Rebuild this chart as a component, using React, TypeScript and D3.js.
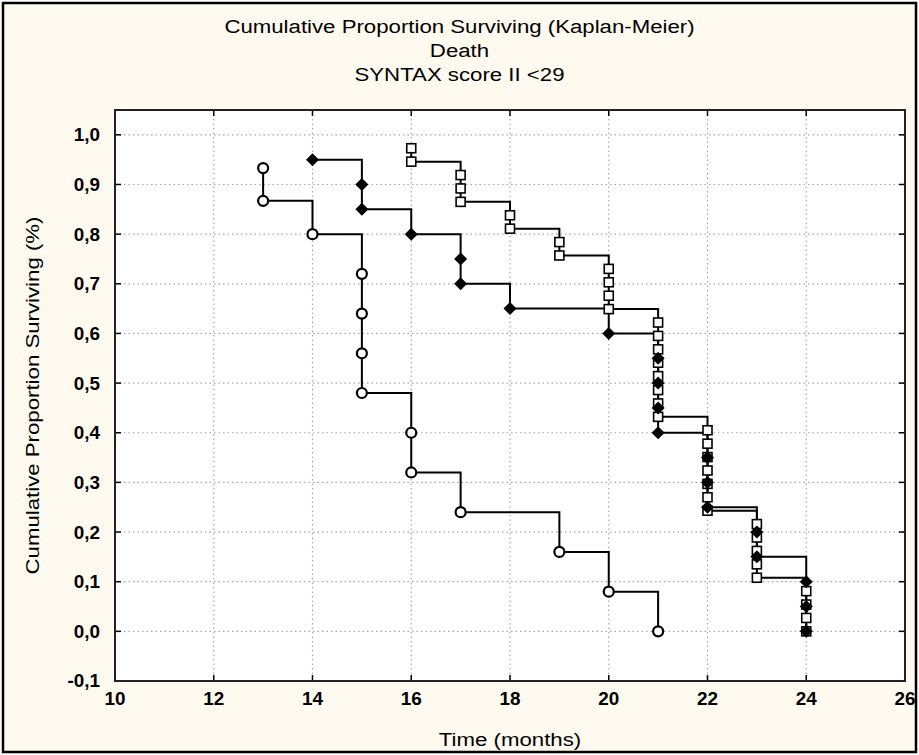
import React from "react";
import * as d3 from "d3";

// Kaplan-Meier event times (months) and survival estimates per group
const groupATimes = [13, 13, 14, 15, 15, 15, 15, 16, 16, 17, 19, 20, 21];
const groupAValues = [0.933, 0.867, 0.8, 0.72, 0.64, 0.56, 0.48, 0.4, 0.32, 0.24, 0.16, 0.08, 0.0];

const groupBTimes = [14, 15, 15, 16, 17, 17, 18, 20, 21, 21, 21, 21, 22, 22, 22, 23, 23, 24, 24, 24];
const groupBValues = [0.95, 0.9, 0.85, 0.8, 0.75, 0.7, 0.65, 0.6, 0.55, 0.5, 0.45, 0.4, 0.35, 0.3, 0.25, 0.2, 0.15, 0.1, 0.05, 0.0];

const groupCTimes = [
  16, 16, 17, 17, 17, 18, 18, 19, 19, 20, 20, 20, 20,
  21, 21, 21, 21, 21, 21, 21, 21,
  22, 22, 22, 22, 22, 22, 22,
  23, 23, 23, 23, 23,
  24, 24, 24, 24,
];
const groupCValues = [
  0.973, 0.946, 0.919, 0.892, 0.865, 0.838, 0.811, 0.784, 0.757, 0.73, 0.703, 0.676, 0.649,
  0.622, 0.595, 0.568, 0.541, 0.514, 0.486, 0.459, 0.432,
  0.405, 0.378, 0.351, 0.324, 0.297, 0.27, 0.243,
  0.216, 0.189, 0.162, 0.135, 0.108,
  0.081, 0.054, 0.027, 0.0,
];

const xTicks = [10, 12, 14, 16, 18, 20, 22, 24, 26];
const yTicks = [-0.1, 0, 0.1, 0.2, 0.3, 0.4, 0.5, 0.6, 0.7, 0.8, 0.9, 1.0];

const titleLines = ["Cumulative Proportion Surviving (Kaplan-Meier)", "Death", "SYNTAX score II <29"];
const xTitle = "Time (months)";
const yTitle = "Cumulative Proportion Surviving (%)";

const W = 919;
const H = 755;
const plot = { left: 115, right: 905, top: 110, bottom: 681 };
const FONT = "'Liberation Sans', Arial, sans-serif";
// the chart font is slightly wider than Arial, so text is stretched along its run
const TEXT_STRETCH = 1.17;
const TICK_STRETCH = 1.05;

type Pt = { t: number; v: number };
const zip = (ts: number[], vs: number[]): Pt[] => ts.map((t, i) => ({ t, v: vs[i] }));

function Label(props: {
  x: number;
  y: number;
  text: string;
  size: number;
  stretch: number;
  anchor?: string;
  rotate?: number;
  weight?: string | number;
  dy?: string;
}) {
  const { x, y, text, size, stretch, anchor = "middle", rotate = 0, weight = "normal", dy } = props;
  return (
    <text
      transform={`translate(${x},${y}) rotate(${rotate}) scale(${stretch},1)`}
      textAnchor={anchor}
      fontSize={size}
      fontWeight={weight}
      dy={dy}
      fill="#000"
    >
      {text}
    </text>
  );
}

export default function App() {
  const x = d3.scaleLinear().domain([10, 26]).range([plot.left, plot.right]);
  const y = d3.scaleLinear().domain([-0.1, 1.05]).range([plot.bottom, plot.top]);

  const line = d3
    .line<Pt>()
    .x((d) => x(d.t))
    .y((d) => y(d.v))
    .curve(d3.curveStepAfter);

  const a = zip(groupATimes, groupAValues);
  const b = zip(groupBTimes, groupBValues);
  const c = zip(groupCTimes, groupCValues);

  const fmt = (v: number) => d3.format(".1f")(v).replace(".", ",").replace("−", "-");

  const tickLen = 6;

  return (
    <svg
      width={W}
      height={H}
      style={{ position: "absolute", left: 0, top: 0, display: "block" }}
      fontFamily={FONT}
    >
      <defs>
        <clipPath id="frame-clip">
          <rect x={4} y={4} width={W - 8} height={H - 8} />
        </clipPath>
      </defs>
      <rect x={0} y={0} width={W} height={H} fill="#ffffff" />

      <g clipPath="url(#frame-clip)">
        <rect x={3} y={3} width={W - 6} height={H - 6} fill="#fffaf0" />

        {/* plot area */}
        <rect
          x={plot.left}
          y={plot.top}
          width={plot.right - plot.left}
          height={plot.bottom - plot.top}
          fill="#ffffff"
        />

        {/* dotted grid */}
        <g stroke="#a8a8a8" strokeWidth={1.2} strokeDasharray="1.5,3">
          {xTicks.slice(1, -1).map((t) => (
            <line key={"gx" + t} x1={x(t)} x2={x(t)} y1={plot.top} y2={plot.bottom} />
          ))}
          {yTicks.slice(1).map((t) => (
            <line key={"gy" + t} x1={plot.left} x2={plot.right} y1={y(t)} y2={y(t)} />
          ))}
        </g>

        {/* ticks on all four sides, pointing inward */}
        <g stroke="#000" strokeWidth={1.5}>
          {xTicks.map((t) => (
            <g key={"tx" + t}>
              <line x1={x(t)} x2={x(t)} y1={plot.bottom} y2={plot.bottom - tickLen} />
              <line x1={x(t)} x2={x(t)} y1={plot.top} y2={plot.top + tickLen} />
            </g>
          ))}
          {yTicks.map((t) => (
            <g key={"ty" + t}>
              <line x1={plot.left} x2={plot.left + tickLen} y1={y(t)} y2={y(t)} />
              <line x1={plot.right} x2={plot.right - tickLen} y1={y(t)} y2={y(t)} />
            </g>
          ))}
        </g>

        <rect
          x={plot.left}
          y={plot.top}
          width={plot.right - plot.left}
          height={plot.bottom - plot.top}
          fill="none"
          stroke="#222"
          strokeWidth={2}
        />

        {/* survival step curves */}
        <g fill="none" stroke="#000" strokeWidth={2}>
          <path d={line(a) || ""} />
          <path d={line(c) || ""} />
          <path d={line(b) || ""} />
        </g>

        {/* group A: open circles */}
        <g fill="#fff" stroke="#000" strokeWidth={2.2}>
          {a.map((d, i) => (
            <circle key={"a" + i} cx={x(d.t)} cy={y(d.v)} r={5} />
          ))}
        </g>

        {/* group C: open squares */}
        <g fill="#fff" stroke="#000" strokeWidth={1.6}>
          {c.map((d, i) => (
            <rect key={"c" + i} x={x(d.t) - 4.5} y={y(d.v) - 4.5} width={9} height={9} />
          ))}
        </g>

        {/* group B: filled diamonds */}
        <g fill="#000">
          {b.map((d, i) => {
            const cx = x(d.t);
            const cy = y(d.v);
            const s = 6.5;
            return (
              <path
                key={"b" + i}
                d={`M${cx},${cy - s}L${cx + s},${cy}L${cx},${cy + s}L${cx - s},${cy}Z`}
              />
            );
          })}
        </g>

        {/* tick labels */}
        {yTicks.map((t) => (
          <Label
            key={"ly" + t}
            x={plot.left - 15}
            y={y(t)}
            dy="0.36em"
            text={fmt(t)}
            size={18}
            stretch={TICK_STRETCH}
            anchor="end"
            weight="bold"
          />
        ))}
        {xTicks.map((t) => (
          <Label
            key={"lx" + t}
            x={x(t)}
            y={705}
            text={String(t)}
            size={18}
            stretch={TICK_STRETCH}
            weight="bold"
          />
        ))}

        {/* titles */}
        {titleLines.map((s, i) => (
          <Label key={"t" + i} x={W / 2} y={33 + i * 24} text={s} size={19} stretch={TEXT_STRETCH} />
        ))}
        <Label x={(plot.left + plot.right) / 2} y={746} text={xTitle} size={19} stretch={TEXT_STRETCH} />
        <Label
          x={39}
          y={(plot.top + plot.bottom) / 2}
          text={yTitle}
          size={19}
          stretch={TEXT_STRETCH}
          rotate={-90}
        />
      </g>

      {/* outer frame */}
      <rect x={3} y={3} width={W - 6} height={H - 6} fill="none" stroke="#000" strokeWidth={2.5} />
    </svg>
  );
}
